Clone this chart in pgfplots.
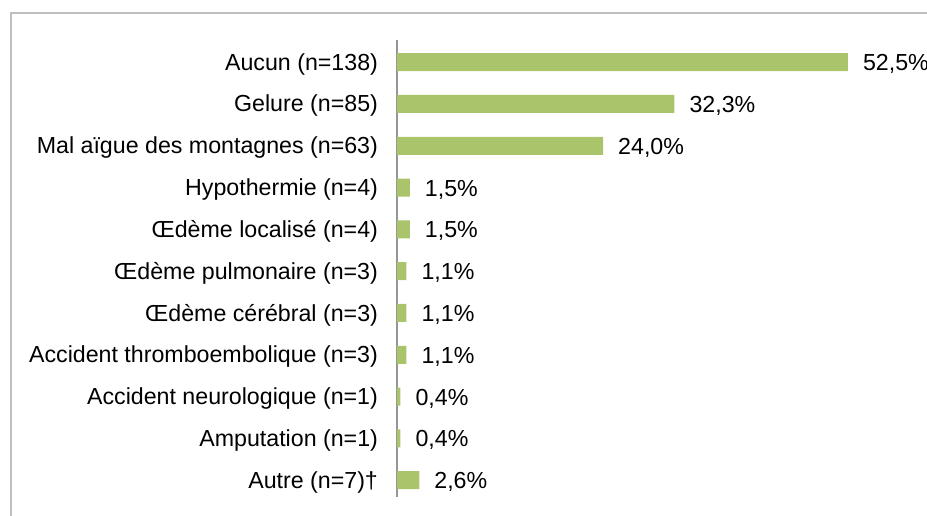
\documentclass[border=0pt]{standalone}
\usepackage{fontspec}
\setmainfont{Liberation Sans}
\usepackage{pgfplots}
\pgfplotsset{compat=1.18}
\definecolor{barg}{RGB}{170,196,108}
\definecolor{frameg}{RGB}{191,191,191}
\definecolor{axisg}{RGB}{150,150,150}
\begin{document}
\begin{tikzpicture}
% page is 927x515 px, 1 px = 0.5pt, y downward from top
\path[use as bounding box] (0,0) rectangle (463.5pt,-257.5pt);
\draw[frameg, line width=1pt] (5.25pt,-300pt) |- (500pt,-6.5pt);
\begin{axis}[
  at={(198.5pt,-20pt)}, anchor=north west,
  x=4.295pt, y=20.9pt, y dir=reverse,
  xmin=0, xmax=52.5, ymin=-0.53, ymax=10.4,
  xbar, bar width=9pt,
  axis x line=none,
  axis y line*=left,
  axis line style={axisg, line width=1pt, -},
  major tick length=0pt,
  ytick={0,...,10},
  yticklabels={{Aucun (n=138)},{Gelure (n=85)},{Mal aïgue des montagnes (n=63)},
    {Hypothermie (n=4)},{Œdème localisé (n=4)},{Œdème pulmonaire (n=3)},
    {Œdème cérébral (n=3)},{Accident thromboembolique (n=3)},
    {Accident neurologique (n=1)},{Amputation (n=1)},{Autre (n=7)†}},
  yticklabel style={font=\fontsize{11.6}{13}\selectfont, xshift=-6pt, yshift=-1pt},
  /pgf/number format/assume math mode=true,
  nodes near coords={\pgfmathprintnumber[fixed,fixed zerofill,precision=1,use comma]{\pgfplotspointmeta}\%},
  every node near coord/.append style={font=\fontsize{11.6}{13}\selectfont, anchor=west, xshift=4pt, yshift=-1pt, black},
  clip=false,
]
\addplot[draw=none, fill=barg] coordinates {
  (52.5,0) (32.3,1) (24.0,2) (1.5,3) (1.5,4) (1.1,5) (1.1,6) (1.1,7) (0.4,8) (0.4,9) (2.6,10)
};
\end{axis}
\end{tikzpicture}
\end{document}
